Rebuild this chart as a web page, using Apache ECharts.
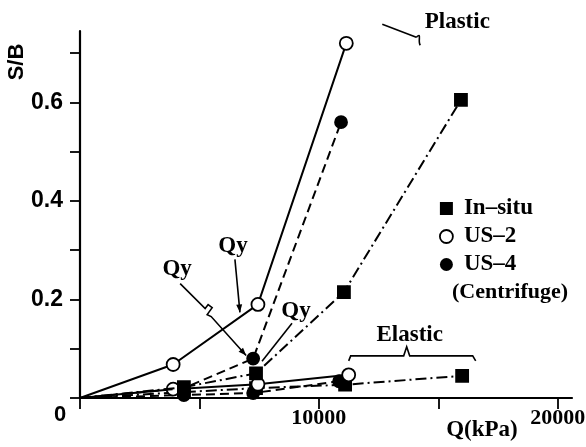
<!DOCTYPE html>
<html>
<head>
<meta charset="utf-8">
<script src="https://cdn.jsdelivr.net/npm/echarts@6/dist/echarts.min.js"></script>
<style>
  html, body { margin: 0; padding: 0; background: #fff; }
  #chart { width: 586px; height: 447px; }
</style>
</head>
<body>
<div id="chart"></div>
<script>
// Q (kPa) / S/B values
const insituPlasticQ = [0, 4350, 7370, 11050, 15950];
const insituPlasticSB = [0, 0.022, 0.05, 0.215, 0.605];
const us2PlasticQ = [0, 3900, 7450, 11150];
const us2PlasticSB = [0, 0.068, 0.19, 0.72];
const us4PlasticQ = [0, 4350, 7250, 10930];
const us4PlasticSB = [0, 0.02, 0.08, 0.56];

const insituElasticQ = [0, 4350, 7370, 11100, 16000];
const insituElasticSB = [0, 0.012, 0.02, 0.027, 0.045];
const us2ElasticQ = [0, 3900, 7450, 11250];
const us2ElasticSB = [0, 0.018, 0.028, 0.047];
const us4ElasticQ = [0, 4350, 7250, 10850];
const us4ElasticSB = [0, 0.006, 0.01, 0.034];

const xLabels = [10000, 20000];
const yLabels = [0.2, 0.4, 0.6];
const names = ['In\u2013situ', 'US\u20132', 'US\u20134'];

const SERIF = '"Liberation Serif", "DejaVu Serif", serif';
const SANS = '"Liberation Sans", Arial, sans-serif';

const chart = echarts.init(document.getElementById('chart'));

const pts = (qs, sbs) => qs.map((q, i) => i === 0
  ? { value: [q, sbs[i]], symbol: 'none' }
  : [q, sbs[i]]);

const styles = {
  insitu: { symbol: 'rect', size: 12, fill: '#000', line: [11, 4, 2, 4] },
  us2: { symbol: 'circle', size: 13, fill: '#fff', line: 'solid' },
  us4: { symbol: 'circle', size: 12, fill: '#000', line: [9, 5] },
};

const mkSeries = (name, st, qs, sbs, z) => ({
  name,
  type: 'line',
  data: pts(qs, sbs),
  symbol: st.symbol,
  symbolSize: st.size,
  showAllSymbol: true,
  z,
  lineStyle: { color: '#000', width: 2, type: st.line },
  itemStyle: { color: st.fill, borderColor: '#000', borderWidth: 1.8 },
  emphasis: { disabled: true },
});

const option = {
  animation: false,
  backgroundColor: '#fff',
  grid: { left: 80, right: 14, top: 31, bottom: 49, containLabel: false, outerBoundsMode: 'none' },
  legend: {
    orient: 'vertical',
    left: 434,
    top: 192,
    itemWidth: 13,
    itemHeight: 13,
    itemGap: 5,
    selectedMode: false,
    textStyle: { fontFamily: SERIF, fontWeight: 'bold', fontSize: 23, color: '#000', padding: [0, 0, 0, 6], lineHeight: 23 },
    data: [
      { name: names[0], icon: 'rect', itemStyle: { color: '#000', borderWidth: 0 } },
      { name: names[1], icon: 'circle', itemStyle: { color: '#fff', borderColor: '#000', borderWidth: 1.8 } },
      { name: names[2], icon: 'circle', itemStyle: { color: '#000', borderWidth: 0 } },
    ],
  },
  xAxis: {
    type: 'value',
    min: 0,
    max: 20600,
    interval: 5000,
    axisLine: { show: true, lineStyle: { color: '#000', width: 2.2 } },
    axisTick: { show: true, length: 11, inside: false, lineStyle: { color: '#000', width: 1.8 } },
    splitLine: { show: false },
    axisLabel: {
      color: '#000', fontFamily: SERIF, fontWeight: 'bold', fontSize: 22, margin: 9,
      showMaxLabel: false,
      formatter: v => xLabels.includes(v) ? String(v) : '',
    },
  },
  yAxis: {
    type: 'value',
    min: 0,
    max: 0.745,
    interval: 0.1,
    axisLine: { show: true, lineStyle: { color: '#000', width: 2.2 } },
    axisTick: { show: true, length: 10, inside: false, lineStyle: { color: '#000', width: 1.8 } },
    splitLine: { show: false },
    axisLabel: {
      color: '#000', fontFamily: SANS, fontWeight: 'bold', fontSize: 23, margin: 17,
      showMaxLabel: false,
      formatter: v => yLabels.some(l => Math.abs(l - v) < 1e-6) ? v.toFixed(1) : '',
    },
  },
  series: [
    mkSeries(names[0], styles.insitu, insituElasticQ, insituElasticSB, 2),
    mkSeries(names[2], styles.us4, us4ElasticQ, us4ElasticSB, 2),
    mkSeries(names[1], styles.us2, us2ElasticQ, us2ElasticSB, 3),
    mkSeries(names[0], styles.insitu, insituPlasticQ, insituPlasticSB, 4),
    mkSeries(names[2], styles.us4, us4PlasticQ, us4PlasticSB, 4),
    mkSeries(names[1], styles.us2, us2PlasticQ, us2PlasticSB, 5),
  ],
};

chart.setOption(option);

// annotations, placed relative to the data points they point at
const toPx = d => chart.convertToPixel({ gridIndex: 0 }, d);
const text = (str, x, y, size, font) => ({
  type: 'text', z: 20,
  style: {
    text: str, x, y, fill: '#000',
    font: 'bold ' + size + 'px ' + (font || SERIF),
    align: 'center', verticalAlign: 'middle',
    textAlign: 'center', textVerticalAlign: 'middle',
  },
});
const poly = (points) => ({
  type: 'polyline', z: 20,
  shape: { points },
  style: { stroke: '#000', lineWidth: 1.6, fill: null },
});
const arrowHead = (from, tip) => {
  const dx = tip[0] - from[0], dy = tip[1] - from[1];
  const len = Math.hypot(dx, dy);
  const ux = dx / len, uy = dy / len;
  const L = 8, W = 3;
  return {
    type: 'polygon', z: 20,
    shape: { points: [tip, [tip[0] - ux * L - uy * W, tip[1] - uy * L + ux * W], [tip[0] - ux * L + uy * W, tip[1] - uy * L - ux * W]] },
    style: { fill: '#000' },
  };
};
const off = (base, o) => [base[0] + o[0], base[1] + o[1]];

const g = [];
// Qy -> US-4 yield point
const a1 = toPx([us4PlasticQ[2], us4PlasticSB[2]]);
const p1 = [[-73, -75], [-48, -50], [-45, -54], [-41, -51], [-46, -44], [-42, -42], [-7, -3]].map(o => off(a1, o));
g.push(poly(p1), arrowHead(p1[5], p1[6]), text('Qy', a1[0] - 76, a1[1] - 90, 23));
// Qy -> US-2 yield point
const a2 = toPx([us2PlasticQ[2], us2PlasticSB[2]]);
const p2 = [[-23, -45], [-18, 8]].map(o => off(a2, o));
g.push(poly(p2), arrowHead(p2[0], p2[1]), text('Qy', a2[0] - 25, a2[1] - 58, 23));
// Qy -> In-situ yield point
const a3 = toPx([insituPlasticQ[2], insituPlasticSB[2]]);
const p3 = [[36, -50], [6, -12]].map(o => off(a3, o));
g.push(poly(p3), text('Qy', a3[0] + 40, a3[1] - 62, 23));
// Plastic
const a4 = toPx([us2PlasticQ[3], us2PlasticSB[3]]);
g.push(poly([[36, -19], [70, -6]].map(o => off(a4, o))));
g.push({
  type: 'bezierCurve', z: 20,
  shape: (() => { const s = off(a4, [70, -6]); return { x1: s[0], y1: s[1], x2: s[0] + 4, y2: s[1] + 8, cpx1: s[0] + 6, cpy1: s[1] - 6, cpx2: s[0] + 1, cpy2: s[1] + 4 }; })(),
  style: { stroke: '#000', lineWidth: 1.6, fill: null },
});
g.push(text('Plastic', a4[0] + 111, a4[1] - 21, 23));
// Elastic brace
const a5 = toPx([us2ElasticQ[3], us2ElasticSB[3]]);
g.push(poly([[0, -14], [2, -19], [55, -19], [58, -28], [61, -19], [124, -19], [127, -14]].map(o => off(a5, o))));
g.push(text('Elastic', a5[0] + 61, a5[1] - 40, 23));
// axis titles and the shared origin label
g.push(text('0', 60, 415, 22, SANS));
g.push(text('Q(kPa)', 482, 430, 23));
g.push({
  type: 'text', z: 20, x: 17, y: 62, rotation: Math.PI / 2,
  style: { text: 'S/B', x: 0, y: 0, fill: '#000', font: 'bold 22px ' + SANS, align: 'center', verticalAlign: 'middle', textAlign: 'center', textVerticalAlign: 'middle' },
});
g.push(text('(Centrifuge)', 510, 292, 22));

chart.setOption({ graphic: { elements: g } });
</script>
</body>
</html>
